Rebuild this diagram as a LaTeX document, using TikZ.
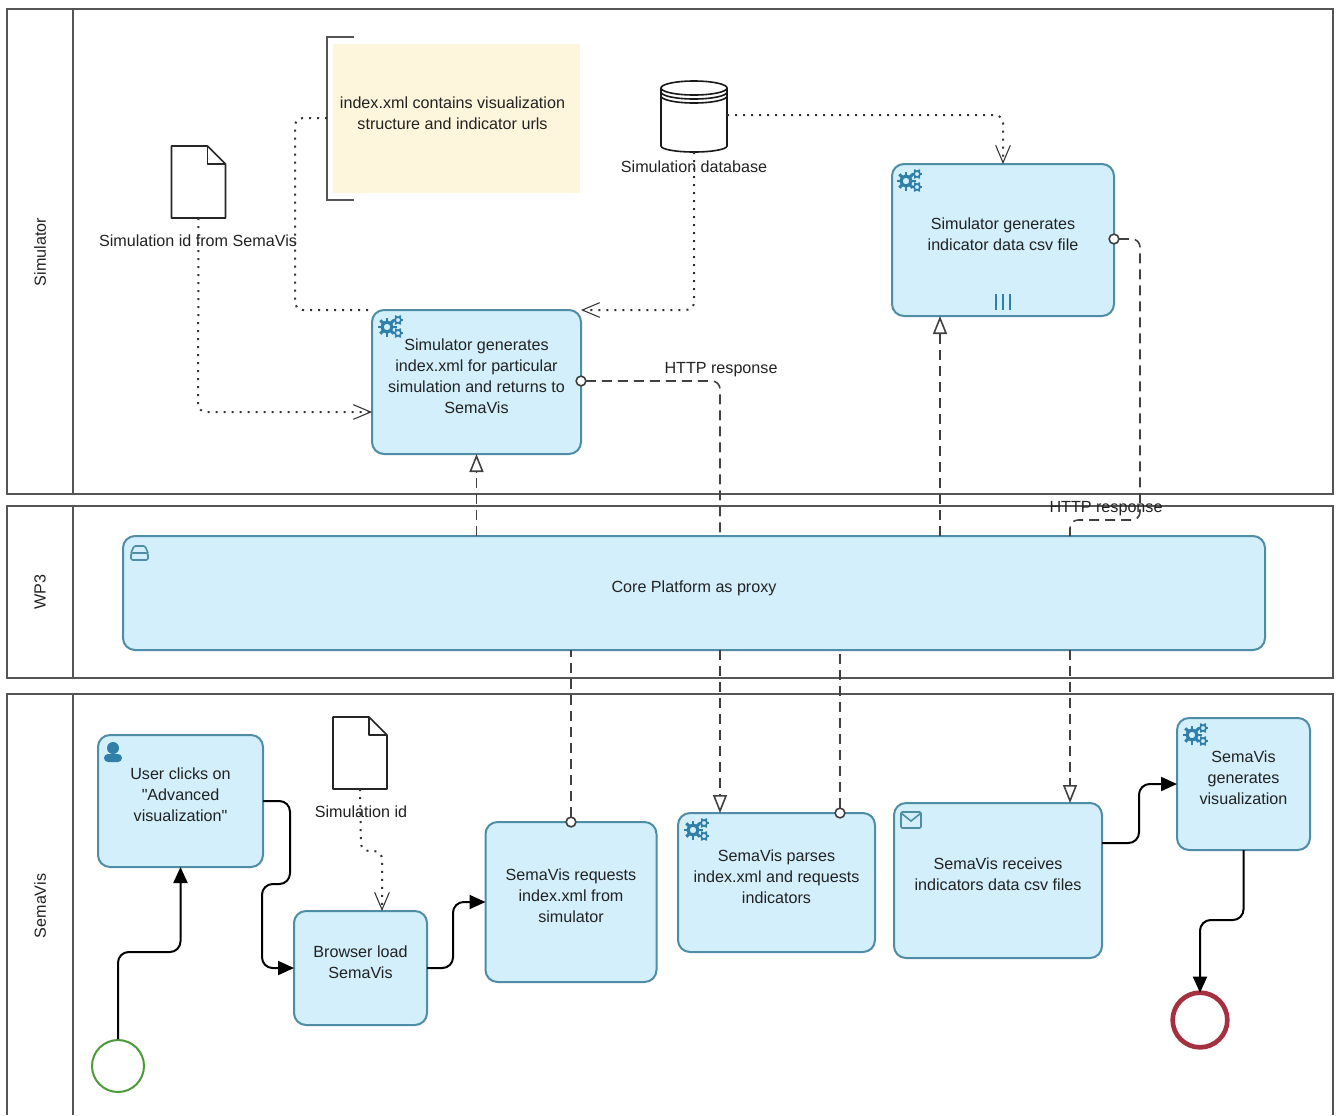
\documentclass[tikz,border=0pt]{standalone}
\usepackage{fontspec}
\setmainfont{Liberation Sans}[Ligatures=TeXOff]
\usetikzlibrary{arrows.meta}
\definecolor{task edge}{HTML}{4F8CA6}
\definecolor{task area}{HTML}{D2EFFB}
\definecolor{note area}{HTML}{FDF5DC}
\definecolor{icon blue}{HTML}{2F7FA8}
\definecolor{lane edge}{HTML}{555555}
\definecolor{text dark}{HTML}{222222}
\definecolor{start green}{HTML}{4E9A3A}
\definecolor{end red}{HTML}{A5303F}
\tikzset{x=0.75pt, y=-0.75pt,
    lane/.style={draw=lane edge, line width=1.5pt},
    lanetitle/.style={rotate=90, font=\fontsize{12.1}{15.75}\selectfont, text=text dark},
    label/.style={font=\fontsize{12.1}{15.75}\selectfont, text=text dark, align=center, inner sep=0pt},
    task/.style={draw=task edge, fill=task area, line width=1.5pt, rounded corners=9pt, outer sep=0pt,
        align=center, font=\fontsize{12.1}{15.75}\selectfont, text=text dark, text depth=9pt},
    ghost/.style={inner sep=0pt, outer sep=0pt},
    seqflow/.style={draw=black, line width=1.5pt, rounded corners=8pt, -{Triangle[length=12pt,width=10.5pt]}},
    msgflow/.style={draw=black!75, line width=1.2pt, rounded corners=6pt, dash pattern=on 7.5pt off 4.5pt},
    msgtip/.style={-{Triangle[open,fill=white,length=13.5pt,width=10.5pt]}},
    msgdot/.style={{Circle[open,fill=white,length=8.5pt]}-, shorten <=-4.25pt},
    assoc/.style={draw=black!80, line width=1.5pt, rounded corners=6pt, dash pattern=on 1.5pt off 4.5pt},
    assoctip/.style={-{Straight Barb[length=13pt,width=11pt,line width=.8pt]}},
    gears/.pic={
        \draw[icon blue, line width=2.4pt] (-3,1) circle (5);
        \foreach \a in {0,45,...,315} \draw[icon blue, line width=2.2pt] (-3,1) ++(\a:6) -- ++(\a:3.5);
        \foreach \p in {(8,-6),(8,7)} {
            \draw[icon blue, line width=1.3pt] \p circle (3);
            \foreach \a in {0,60,...,300} \draw[icon blue, line width=1.2pt] \p ++(\a:3) -- ++(\a:2.2);
        }
    },
    docicon/.pic={
        \draw[black!85, line width=1.2pt, line join=round] (-27,-36) -- (9,-36) -- (27,-18) -- (27,36) -- (-27,36) -- cycle;
        \draw[black!85, line width=1.2pt, line join=round] (9,-36) -- (9,-18) -- (27,-18);
    },
    dbicon/.pic={
        \draw[black!90, line width=1.2pt, fill=white] (-33,-28) -- (-33,30) arc[start angle=180, end angle=0, x radius=33, y radius=6] -- (33,-28);
        \draw[black!90, line width=1.2pt] (0,-28) ellipse (33 and 7);
        \draw[black!90, line width=1.2pt] (-33,-24) arc[start angle=180, end angle=0, x radius=33, y radius=7];
        \draw[black!90, line width=1.2pt] (-33,-20) arc[start angle=180, end angle=0, x radius=33, y radius=7];
    }}

\begin{document}
\begin{tikzpicture}
    \useasboundingbox[fill=white] (0,0) rectangle (1341,1115);

    % lanes
    \draw[lane] (7,9) rectangle (1333,494);
    \draw[lane] (73,9) -- (73,494);
    \draw[lane] (7,506) rectangle (1333,678);
    \draw[lane] (73,506) -- (73,678);
    \draw[lane] (7,1115) -- (7,694) -- (1333,694) -- (1333,1115);
    \draw[lane] (73,694) -- (73,1115);
    \node[lanetitle] (laneSim) at (40,252) {Simulator};
    \node[lanetitle] (laneCore) at (40,592) {WP3};
    \node[lanetitle] (laneSema) at (40,906) {SemaVis};

    % note and data objects
    \fill[note area] (333,44) rectangle (580,193);
    \node[label] (note) at (452.5,113.5)
        {index.xml contains visualization\\structure and indicator urls};
    \draw[lane] (354,37) -- (327,37) -- (327,200) -- (354,200);
    \coordinate (noteEdge) at (327,118);

    \node[ghost, minimum width=40.5pt, minimum height=54pt] (simId) at (198.5,182) {};
    \pic at (simId.center) {docicon};
    \node[label] (simIdText) at (198,241) {Simulation id from SemaVis};

    \node[ghost, minimum width=40.5pt, minimum height=54pt] (semaId) at (360,753) {};
    \pic at (semaId.center) {docicon};
    \node[label] (semaIdText) at (361,812) {Simulation id};

    \node[ghost, minimum width=49.5pt, minimum height=54pt] (simDb) at (694,116) {};
    \pic at (simDb.center) {dbicon};
    \node[label] (simDbText) at (694,167) {Simulation database};

    % tasks
    \node[task, minimum width=156.75pt, minimum height=108pt] (simIndex) at (476.5,382)
        {Simulator generates\\index.xml for particular\\simulation and returns to\\SemaVis};
    \node[task, minimum width=166.5pt, minimum height=114pt] (simCsv) at (1003,240)
        {Simulator generates\\indicator data csv file};
    \node[task, minimum width=856.5pt, minimum height=85.5pt] (core) at (694,593)
        {Core Platform as proxy};
    \node[task, minimum width=123.75pt, minimum height=99pt] (userClick) at (180.5,801)
        {User clicks on\\"Advanced\\visualization"};
    \node[task, minimum width=99.75pt, minimum height=85.5pt] (browser) at (360.5,968)
        {Browser load\\SemaVis};
    \node[task, minimum width=128.25pt, minimum height=120pt] (request) at (571,902)
        {SemaVis requests\\index.xml from\\simulator};
    \node[task, minimum width=147.75pt, minimum height=104.25pt] (parse) at (776.5,882.5)
        {SemaVis parses\\index.xml and requests\\indicators};
    \node[task, minimum width=156pt, minimum height=116.25pt] (receive) at (998,880.5)
        {SemaVis receives\\indicators data csv files};
    \node[task, minimum width=99.75pt, minimum height=99pt] (generate) at (1243.5,784)
        {SemaVis\\generates\\visualization};

    % events
    \node[circle, draw=start green, line width=1.5pt, minimum size=39pt, inner sep=0pt] (start) at (118,1066) {};
    \node[circle, draw=end red, line width=3.5pt, minimum size=41pt, inner sep=0pt, outer sep=0pt] (end) at (1200,1020) {};

    % task markers
    \pic at ([shift={(18,16)}]simIndex.north west) {gears};
    \pic at ([shift={(17,16)}]simCsv.north west) {gears};
    \pic at ([shift={(18,16)}]parse.north west) {gears};
    \pic at ([shift={(18,16)}]generate.north west) {gears};
    \foreach \x in {-7,0,7}
        \draw[icon blue, line width=1.2pt] ([shift={(\x,-22)}]simCsv.south) -- ++(0,16);
    \draw[task edge, line width=1.2pt, rounded corners=1.5pt] ([shift={(8,17)}]core.north west) rectangle ++(17,7);
    \draw[task edge, line width=1.2pt, rounded corners=1pt] ([shift={(8,17)}]core.north west) -- ++(3,-7) -- ++(11,0) -- ++(3,7);
    \fill[icon blue] ([shift={(15,13)}]userClick.north west) circle (6);
    \fill[icon blue, rounded corners=3pt] ([shift={(6,19)}]userClick.north west) rectangle ++(18,8);
    \draw[task edge, line width=1.2pt, rounded corners=1pt] ([shift={(7,9)}]receive.north west) rectangle ++(20,16);
    \draw[task edge, line width=1.2pt] ([shift={(7,10)}]receive.north west) -- ++(10,8) -- ++(10,-8);

    % sequence flow
    \draw[seqflow] (start.north) -- (118,952) -- (userClick.south |- 0,952) -- (userClick.south);
    \draw[seqflow] (userClick.east) -- (290,801) -- (290,884) -- (262,884) -- (262,968) -- (browser.west);
    \draw[seqflow] (browser.east) -- (453,968) -- (453,902) -- (request.west);
    \coordinate (receiveOut) at (1102,843);
    \coordinate (generateIn) at (1177,784);
    \draw[seqflow] (receiveOut) -- (1139,843) -- (1139,784) -- (generateIn);
    \draw[seqflow] (generate.south) -- (generate.south |- 0,920) -- (1200,920) -- (end.north);

    % message flow
    \coordinate (csvIn) at (940,316);
    \coordinate (parseIn) at (720,813);
    \coordinate (parseOut) at (840,813);
    \coordinate (receiveIn) at (1070,803);
    \coordinate (indexOut) at (581,381);
    \coordinate (csvOut) at (1114,239);
    \draw[msgflow, msgtip] (core.north -| simIndex.south) -- (simIndex.south);
    \draw[msgflow, msgtip] (core.north -| csvIn) -- (csvIn);
    \draw[msgflow, msgdot] (indexOut) -- (720,381) -- (core.north -| 720,0);
    \draw[msgflow, msgdot] (csvOut) -- (1140,239) -- (1140,520) -- (1070,520) -- (core.north -| 1070,0);
    \draw[msgflow, msgdot] (request.north) -- (core.south -| request.north);
    \draw[msgflow, msgtip] (core.south -| parseIn) -- (parseIn);
    \draw[msgflow, msgdot] (parseOut) -- (core.south -| parseOut);
    \draw[msgflow, msgtip] (core.south -| receiveIn) -- (receiveIn);
    \node[label] (httpIndex) at (721,370) {HTTP response};
    \node[label] (httpCsv) at (1106,509) {HTTP response};

    % associations
    \draw[assoc, assoctip] (simId.south) -- (198,412) -- (simIndex.west |- 0,412);
    \draw[assoc] (noteEdge) -- (295,118) -- (295,310) -- (simIndex.north west);
    \draw[assoc, assoctip] (simDb.south) -- (694,310) -- (simIndex.north east);
    \draw[assoc, assoctip] (simDb.east |- 0,115) -- (1003,115) -- (simCsv.north);
    \draw[assoc, assoctip] (semaId.south) -- (361,851) -- (382,851) -- (browser.north -| 382,0);
\end{tikzpicture}
\end{document}
